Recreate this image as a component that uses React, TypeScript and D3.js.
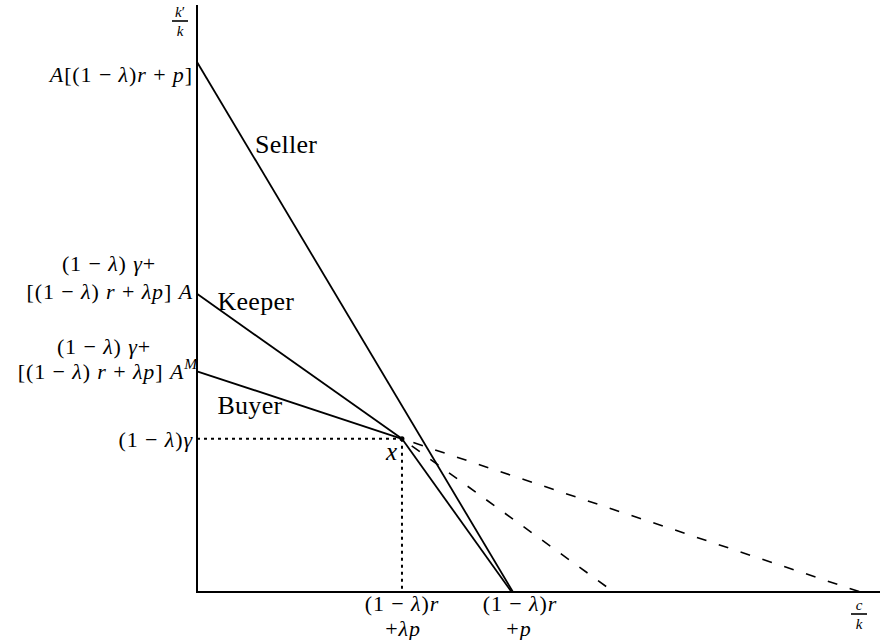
import React, { useEffect, useRef } from 'react';
import * as d3 from 'd3';

// values, in plot units (x: 0..10, y: 0..10)
const kinkPoint = { x: 3.01, y: 2.61 };
const sellerLine = [{ x: 0, y: 9.03 }, { x: 4.64, y: 0 }];
const keeperSolid = [{ x: 0, y: 5.08 }, kinkPoint];
const buyerSolid = [{ x: 0, y: 3.76 }, kinkPoint];
const kinkToAxis = [kinkPoint, { x: 4.62, y: 0 }];
const keeperDashed = [kinkPoint, { x: 6.12, y: 0 }];
const buyerDashed = [kinkPoint, { x: 9.74, y: 0 }];

const lineNames = [
  { name: 'Seller', x: 0.85, y: 7.48 },
  { name: 'Keeper', x: 0.3, y: 4.8 },
  { name: 'Buyer', x: 0.3, y: 3.04 },
];

type Seg = { t: string; i?: boolean; sup?: boolean };

const FONT = '"Liberation Serif", "DejaVu Serif", serif';

const App: React.FC = () => {
  const ref = useRef<SVGSVGElement>(null);

  useEffect(() => {
    const svg = d3.select(ref.current);
    svg.selectAll('*').remove();

    const ox = 197, oy = 592;
    const x = d3.scaleLinear().domain([0, 10]).range([ox, ox + 681]);
    const y = d3.scaleLinear().domain([0, 10]).range([oy, oy - 587]);

    const line = d3.line<{ x: number; y: number }>().x(d => x(d.x)).y(d => y(d.y));

    const g = svg.append('g');

    // axes
    g.append('line').attr('x1', ox).attr('y1', oy).attr('x2', ox).attr('y2', 5)
      .attr('stroke', '#000').attr('stroke-width', 2);
    g.append('line').attr('x1', ox - 1).attr('y1', oy).attr('x2', 880).attr('y2', oy)
      .attr('stroke', '#000').attr('stroke-width', 2);

    // dotted guides to the kink
    g.append('line').attr('x1', ox).attr('y1', y(kinkPoint.y)).attr('x2', x(kinkPoint.x)).attr('y2', y(kinkPoint.y))
      .attr('stroke', '#000').attr('stroke-width', 2).attr('stroke-dasharray', '3,4');
    g.append('line').attr('x1', x(kinkPoint.x)).attr('y1', y(kinkPoint.y)).attr('x2', x(kinkPoint.x)).attr('y2', oy)
      .attr('stroke', '#000').attr('stroke-width', 2).attr('stroke-dasharray', '3,4');

    // solid lines
    [sellerLine, keeperSolid, buyerSolid, kinkToAxis].forEach(d => {
      g.append('path').datum(d).attr('d', line)
        .attr('fill', 'none').attr('stroke', '#000').attr('stroke-width', 1.8);
    });

    // dashed continuations
    [keeperDashed, buyerDashed].forEach(d => {
      g.append('path').datum(d).attr('d', line)
        .attr('fill', 'none').attr('stroke', '#000').attr('stroke-width', 1.6)
        .attr('stroke-dasharray', '10,13').attr('stroke-dashoffset', -12);
    });

    g.append('circle').attr('cx', x(kinkPoint.x)).attr('cy', y(kinkPoint.y)).attr('r', 2.5).attr('fill', '#000');

    // helper for math-like text
    const mathText = (segs: Seg[], px: number, py: number, anchor: string, size = 22, ls = 0.9) => {
      const t = g.append('text').attr('x', px).attr('y', py).attr('text-anchor', anchor)
        .attr('font-family', FONT).attr('font-size', size).attr('letter-spacing', ls);
      segs.forEach(s => {
        const sp = t.append('tspan').text(s.t);
        if (s.i) sp.attr('font-style', 'italic');
        if (s.sup) sp.attr('font-size', size * 0.7).attr('dy', -10);
      });
      return t;
    };

    const frac = (num: Seg[], den: Seg[], cx: number, cy: number) => {
      mathText(num, cx, cy - 4, 'middle', 15, 0);
      mathText(den, cx, cy + 15, 'middle', 15, 0);
      g.append('line').attr('x1', cx - 8).attr('x2', cx + 8).attr('y1', cy).attr('y2', cy)
        .attr('stroke', '#000').attr('stroke-width', 1.6);
    };

    frac([{ t: 'k', i: true }, { t: '′' }], [{ t: 'k', i: true }], 180, 21);
    frac([{ t: 'c', i: true }], [{ t: 'k', i: true }], 859, 614);

    // y labels
    mathText([{ t: 'A', i: true }, { t: '[(1 − ' }, { t: 'λ', i: true }, { t: ')' }, { t: 'r', i: true }, { t: ' + ' }, { t: 'p', i: true }, { t: ']' }],
      193, 82, 'end');
    mathText([{ t: '(1 − ' }, { t: 'λ', i: true }, { t: ') ' }, { t: 'γ', i: true }, { t: '+' }], 109, 271, 'middle');
    mathText([{ t: '[(1 − ' }, { t: 'λ', i: true }, { t: ') ' }, { t: 'r', i: true }, { t: ' + ' }, { t: 'λp', i: true }, { t: '] ' }, { t: 'A', i: true }],
      193, 299, 'end');
    mathText([{ t: '(1 − ' }, { t: 'λ', i: true }, { t: ') ' }, { t: 'γ', i: true }, { t: '+' }], 104, 354, 'middle');
    mathText([{ t: '[(1 − ' }, { t: 'λ', i: true }, { t: ') ' }, { t: 'r', i: true }, { t: ' + ' }, { t: 'λp', i: true }, { t: '] ' }, { t: 'A', i: true }, { t: 'M', i: true, sup: true }],
      198, 379, 'end');
    mathText([{ t: '(1 − ' }, { t: 'λ', i: true }, { t: ')' }, { t: 'γ', i: true }], 193, 447, 'end');

    // x labels
    mathText([{ t: '(1 − ' }, { t: 'λ', i: true }, { t: ')' }, { t: 'r', i: true }], x(kinkPoint.x), 611, 'middle');
    mathText([{ t: '+' }, { t: 'λp', i: true }], x(kinkPoint.x) + 1, 636, 'middle');
    mathText([{ t: '(1 − ' }, { t: 'λ', i: true }, { t: ')' }, { t: 'r', i: true }], x(sellerLine[1].x) + 7, 611, 'middle');
    mathText([{ t: '+' }, { t: 'p', i: true }], x(sellerLine[1].x) + 6, 636, 'middle');

    // point label
    mathText([{ t: 'x', i: true }], x(kinkPoint.x) - 16, 460, 'start', 25, 0);

    // curve names
    lineNames.forEach(d => {
      g.append('text').attr('x', x(d.x)).attr('y', y(d.y)).attr('font-family', FONT)
        .attr('font-size', 26).attr('letter-spacing', 0.3).text(d.name);
    });
  }, []);

  return (
    <svg ref={ref} width={880} height={640} style={{ position: 'absolute', left: 0, top: 0, background: '#fff' }} />
  );
};

export default App;
